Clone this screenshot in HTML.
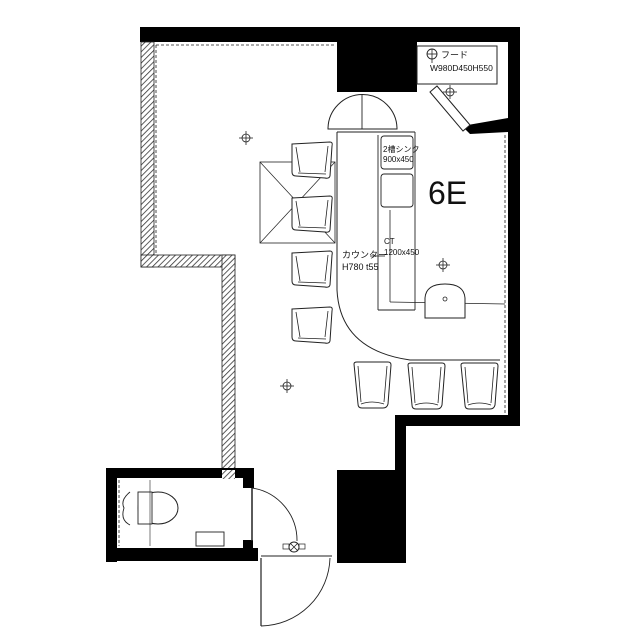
<!DOCTYPE html>
<html><head><meta charset="utf-8"><style>
html,body{margin:0;padding:0;background:#fff;}
svg{display:block}
text{font-family:"Liberation Sans","Noto Sans CJK JP",sans-serif;fill:#111}
</style></head><body>
<svg width="640" height="640" viewBox="0 0 640 640" xmlns="http://www.w3.org/2000/svg">
<defs>
<pattern id="h" width="4" height="4" patternUnits="userSpaceOnUse" patternTransform="rotate(45)">
<rect width="4" height="4" fill="#fff"/><line x1="0" y1="0" x2="0" y2="4" stroke="#333" stroke-width="1.6"/>
</pattern>
<g id="lt"><circle r="4" fill="none" stroke="#222" stroke-width="0.8"/><line x1="-7" y1="0" x2="7" y2="0" stroke="#222" stroke-width="0.8"/><line x1="0" y1="-7" x2="0" y2="7" stroke="#222" stroke-width="0.8"/></g>
<g id="ch"><path d="M2 2 L40 0 Q43 0 42 4 L40 34 Q39 37 35 36 L6 34 Q2 34 2 30 Z" fill="#fff" stroke="#222" stroke-width="1"/><path d="M6 5 L10 30 M38 4 L35 30 M8 31 L36 32" stroke="#222" stroke-width="0.8" fill="none"/></g>
<g id="cb"><path d="M0 2 Q0 0 3 0 L34 0 Q37 0 37 3 L34 42 Q33 46 29 46 L8 46 Q4 46 4 42 Z" fill="#fff" stroke="#222" stroke-width="1"/><path d="M4 4 L7 40 M33 4 L30 40 M7 42 Q18 38 30 42" stroke="#222" stroke-width="0.8" fill="none"/></g>
</defs>
<!-- top wall -->
<rect x="140" y="27" width="380" height="15" fill="#000"/>
<rect x="337" y="27" width="80" height="65" fill="#000"/>
<rect x="508" y="27" width="12" height="398" fill="#000"/>
<path d="M462 126 L508 118 L508 132 L470 134 Z" fill="#000"/>
<!-- hood -->
<rect x="417" y="46" width="80" height="38" fill="#fff" stroke="#222" stroke-width="1"/>
<path d="M430 92 L437 86 L470 125 L463 131 Z" fill="#fff" stroke="#222" stroke-width="1"/>
<circle cx="432" cy="54" r="5" fill="none" stroke="#222" stroke-width="0.9"/>
<line x1="427" y1="54" x2="437" y2="54" stroke="#222" stroke-width="0.8"/><line x1="432" y1="49" x2="432" y2="63" stroke="#222" stroke-width="0.8"/>
<text x="441" y="58" font-size="9">フード</text>
<text x="430" y="71" font-size="8.5">W980D450H550</text>
<!-- left hatched walls -->
<rect x="141" y="42" width="13" height="225" fill="url(#h)" stroke="#222" stroke-width="0.8"/>
<rect x="141" y="255" width="94" height="12" fill="url(#h)" stroke="#222" stroke-width="0.8"/>
<rect x="222" y="255" width="13" height="218" fill="url(#h)" stroke="#222" stroke-width="0.8"/>
<line x1="156" y1="45" x2="156" y2="253" stroke="#222" stroke-width="0.8" stroke-dasharray="3,2"/>
<line x1="156" y1="45" x2="335" y2="45" stroke="#222" stroke-width="0.8" stroke-dasharray="3,2"/>
<line x1="505" y1="135" x2="505" y2="415" stroke="#222" stroke-width="0.8" stroke-dasharray="3,2"/>
<!-- right bottom step -->
<rect x="395" y="415" width="125" height="11" fill="#000"/>
<rect x="395" y="415" width="11" height="148" fill="#000"/>
<rect x="337" y="470" width="69" height="93" fill="#000"/>
<!-- toilet room -->
<rect x="106" y="468" width="148" height="10" fill="#000"/>
<rect x="106" y="468" width="11" height="94" fill="#000"/>
<rect x="106" y="548" width="152" height="13" fill="#000"/>
<rect x="243" y="468" width="11" height="20" fill="#000"/>
<rect x="243" y="540" width="10" height="10" fill="#000"/>
<rect x="222" y="470" width="13" height="9" fill="url(#h)"/>
<line x1="119" y1="480" x2="119" y2="546" stroke="#222" stroke-width="0.8" stroke-dasharray="3,2"/>
<ellipse cx="158" cy="508" rx="20" ry="16" fill="none" stroke="#222" stroke-width="1"/>
<rect x="138" y="492" width="14" height="32" fill="#fff" stroke="#222" stroke-width="0.9"/>
<path d="M130 492 Q120 500 124 508 Q120 520 130 525" fill="none" stroke="#222" stroke-width="0.9"/>
<line x1="150" y1="480" x2="150" y2="546" stroke="#222" stroke-width="0.6"/>
<rect x="196" y="532" width="28" height="14" fill="none" stroke="#222" stroke-width="0.9"/>
<!-- toilet door -->
<line x1="252" y1="488" x2="252" y2="541" stroke="#222" stroke-width="1.5"/>
<path d="M252 488 A53 53 0 0 1 297 541" fill="none" stroke="#222" stroke-width="0.9"/>
<!-- entry door -->
<line x1="261" y1="556" x2="332" y2="556" stroke="#222" stroke-width="1"/>
<line x1="261" y1="558" x2="261" y2="626" stroke="#222" stroke-width="1.2"/>
<path d="M261 626 A70 70 0 0 0 330 558" fill="none" stroke="#222" stroke-width="0.9"/>
<circle cx="294" cy="547" r="5" fill="none" stroke="#222" stroke-width="0.9"/>
<path d="M290 543 L298 551 M298 543 L290 551" stroke="#222" stroke-width="0.8"/>
<rect x="283" y="544" width="6" height="5" fill="none" stroke="#222" stroke-width="0.7"/>
<rect x="299" y="544" width="6" height="5" fill="none" stroke="#222" stroke-width="0.7"/>
<!-- fan semicircle -->
<path d="M328 129 A34 34 0 0 1 397 129 Z" fill="#fff" stroke="#222" stroke-width="1"/>
<line x1="362" y1="95" x2="362" y2="129" stroke="#222" stroke-width="0.9"/>
<!-- counter -->
<path d="M337 132 L415 132 M337 132 L337 290 Q340 350 410 360 L500 360" fill="none" stroke="#222" stroke-width="1"/>
<line x1="378" y1="135" x2="378" y2="310" stroke="#222" stroke-width="0.9"/>
<line x1="415" y1="132" x2="415" y2="310" stroke="#222" stroke-width="0.9"/>
<line x1="378" y1="310" x2="415" y2="310" stroke="#222" stroke-width="0.9"/>
<rect x="381" y="136" width="32" height="33" rx="3" fill="none" stroke="#222" stroke-width="0.9"/>
<rect x="381" y="174" width="32" height="33" rx="3" fill="none" stroke="#222" stroke-width="0.9"/>
<line x1="390" y1="210" x2="390" y2="302" stroke="#222" stroke-width="0.8"/>
<line x1="390" y1="302" x2="505" y2="304" stroke="#222" stroke-width="0.8"/>
<path d="M425 318 L425 298 Q426 284 445 284 Q464 284 465 298 L465 318 Z" fill="#fff" stroke="#222" stroke-width="1"/>
<circle cx="445" cy="299" r="2" fill="none" stroke="#222" stroke-width="0.8"/>
<text x="383" y="152" font-size="8">2槽シンク</text>
<text x="383" y="162" font-size="8">900x450</text>
<text x="384" y="244" font-size="8">CT</text>
<text x="384" y="255" font-size="8">1200x450</text>
<text x="342" y="258" font-size="9">カウンター</text>
<text x="342" y="270" font-size="9">H780  t55</text>
<line x1="370" y1="256" x2="385" y2="256" stroke="#222" stroke-width="0.8"/>
<text x="428" y="204" font-size="32">6E</text>
<!-- X square -->
<rect x="260" y="162" width="75" height="81" fill="none" stroke="#222" stroke-width="0.8"/>
<line x1="260" y1="162" x2="335" y2="243" stroke="#222" stroke-width="0.7"/>
<line x1="335" y1="162" x2="260" y2="243" stroke="#222" stroke-width="0.7"/>
<circle cx="295" cy="202" r="3" fill="none" stroke="#222" stroke-width="0.8"/>
<circle cx="301" cy="202" r="3" fill="none" stroke="#222" stroke-width="0.8"/>
<!-- chairs -->
<use href="#ch" x="290" y="142"/>
<use href="#ch" x="290" y="196"/>
<use href="#ch" x="290" y="251"/>
<use href="#ch" x="290" y="307"/>
<use href="#cb" x="354" y="362"/>
<use href="#cb" x="408" y="363"/>
<use href="#cb" x="461" y="363"/>
<!-- lights -->
<use href="#lt" x="246" y="138"/>
<use href="#lt" x="450" y="92"/>
<use href="#lt" x="443" y="265"/>
<use href="#lt" x="287" y="386"/>
</svg>
</body></html>
